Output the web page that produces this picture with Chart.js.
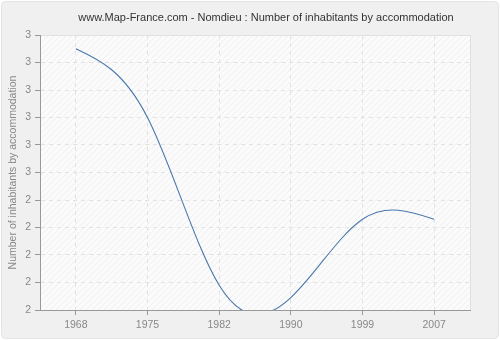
<!DOCTYPE html>
<html>
<head>
<meta charset="utf-8">
<script src="https://cdn.jsdelivr.net/npm/chart.js@4/dist/chart.umd.min.js"></script>
<style>
  html, body { margin: 0; padding: 0; background: #fff; }
  #wrap { width: 500px; height: 340px; }
</style>
</head>
<body>
<div id="wrap"><canvas id="chart" width="500" height="340"></canvas></div>
<script>
const years = ['1968', '1975', '1982', '1990', '1999', '2007'];
const inhabitants = [2.95, 2.70, 2.09, 2.045, 2.33, 2.33];
const yTicks = [2.0, 2.1, 2.2, 2.3, 2.4, 2.5, 2.6, 2.7, 2.8, 2.9, 3.0];
const titleText = 'www.Map-France.com - Nomdieu : Number of inhabitants by accommodation';
const FONT = '"Liberation Sans", Arial, sans-serif';

// hatch pattern for the plot background
function hatch() {
  const c = document.createElement('canvas');
  c.width = 6; c.height = 6;
  const g = c.getContext('2d');
  g.fillStyle = '#fbfbfb';
  g.fillRect(0, 0, 6, 6);
  g.strokeStyle = '#efefef';
  g.lineWidth = 1;
  g.beginPath();
  g.moveTo(0, 6); g.lineTo(6, 0);
  g.moveTo(-1, 1); g.lineTo(1, -1);
  g.moveTo(5, 7); g.lineTo(7, 5);
  g.stroke();
  return g.createPattern(c, 'repeat');
}

const frame = {
  id: 'frame',
  beforeDraw(chart) {
    const { ctx, chartArea: a } = chart;
    ctx.save();
    ctx.fillStyle = '#fff';
    ctx.fillRect(0, 0, chart.width, chart.height);
    ctx.fillStyle = '#f0f0f0';
    ctx.strokeStyle = '#e4e4e4';
    ctx.beginPath();
    ctx.roundRect(1.5, 1.5, chart.width - 3, chart.height - 3, 4);
    ctx.fill();
    ctx.stroke();
    ctx.fillStyle = hatch();
    ctx.fillRect(a.left, a.top, a.right - a.left, a.bottom - a.top);
    ctx.strokeStyle = '#e0e0e0';
    ctx.strokeRect(a.left + 0.5, a.top + 0.5, a.right - a.left, a.bottom - a.top);
    ctx.fillStyle = '#333';
    ctx.font = '11px ' + FONT;
    ctx.textAlign = 'center';
    ctx.textBaseline = 'middle';
    ctx.fillText(titleText, 266, 18);
    ctx.restore();
  }
};

// draw the line as a natural cubic spline through the library's point positions
const spline = {
  id: 'spline',
  beforeDatasetDraw(chart, args) {
    const pts = args.meta.data;
    const n = pts.length;
    const ys = pts.map(p => p.y);
    const h = pts[1].x - pts[0].x;
    const M = new Array(n).fill(0);
    const c = new Array(n).fill(0), d = new Array(n).fill(0);
    for (let i = 1; i < n - 1; i++) {
      const rhs = 6 * (ys[i + 1] - 2 * ys[i] + ys[i - 1]) / (h * h);
      const den = 4 - (i > 1 ? c[i - 1] : 0);
      c[i] = 1 / den;
      d[i] = (rhs - (i > 1 ? d[i - 1] : 0)) / den;
    }
    for (let i = n - 2; i >= 1; i--) M[i] = d[i] - c[i] * M[i + 1];
    const ds = args.meta.dataset.options;
    const { ctx, chartArea: a } = chart;
    ctx.save();
    ctx.beginPath();
    ctx.rect(a.left, a.top, a.right - a.left, a.bottom - a.top);
    ctx.clip();
    ctx.strokeStyle = ds.borderColor;
    ctx.lineWidth = ds.borderWidth;
    ctx.beginPath();
    ctx.moveTo(pts[0].x, ys[0]);
    for (let i = 0; i < n - 1; i++) {
      const s = (ys[i + 1] - ys[i]) / h;
      const d0 = s - h * (2 * M[i] + M[i + 1]) / 6;
      const d1 = s + h * (M[i] + 2 * M[i + 1]) / 6;
      ctx.bezierCurveTo(pts[i].x + h / 3, ys[i] + d0 * h / 3,
                        pts[i + 1].x - h / 3, ys[i + 1] - d1 * h / 3,
                        pts[i + 1].x, ys[i + 1]);
    }
    ctx.stroke();
    ctx.restore();
    return false;
  }
};

const config = {
  type: 'line',
  data: {
    labels: years,
    datasets: [{
      data: inhabitants,
      borderColor: '#4a78ad',
      borderWidth: 1.1,
      pointRadius: 0,
      fill: false
    }]
  },
  options: {
    responsive: false,
    animation: false,
    layout: { padding: { left: 0, right: 30, top: 35, bottom: 0 } },
    plugins: {
      legend: { display: false },
      title: { display: false },
      tooltip: { enabled: false }
    },
    scales: {
      x: {
        offset: true,
        grid: { color: '#e2e2e2', tickColor: '#999', tickLength: 5, tickBorderDash: [] },
        border: { color: '#999', dash: [4, 4] },
        ticks: { color: '#888', font: { family: FONT, size: 10.5 }, padding: 4, maxRotation: 0 },
        afterFit(s) { s.height = 30; }
      },
      y: {
        min: 2, max: 3,
        afterBuildTicks(s) { s.ticks = yTicks.map(v => ({ value: v })); },
        grid: { color: '#e2e2e2', tickColor: '#999', tickLength: 5, tickBorderDash: [] },
        border: { color: '#999', dash: [4, 4] },
        ticks: {
          color: '#888', font: { family: FONT, size: 10.5 }, padding: 4,
          callback: v => Math.round(v)
        },
        title: {
          display: true, text: 'Number of inhabitants by accommodation',
          color: '#888', font: { family: FONT, size: 10.5 }, padding: { top: 7, bottom: 0 }
        },
        afterFit(s) { s.width = 40; }
      }
    }
  },
  plugins: [frame, spline]
};

new Chart(document.getElementById('chart'), config);
</script>
</body>
</html>
